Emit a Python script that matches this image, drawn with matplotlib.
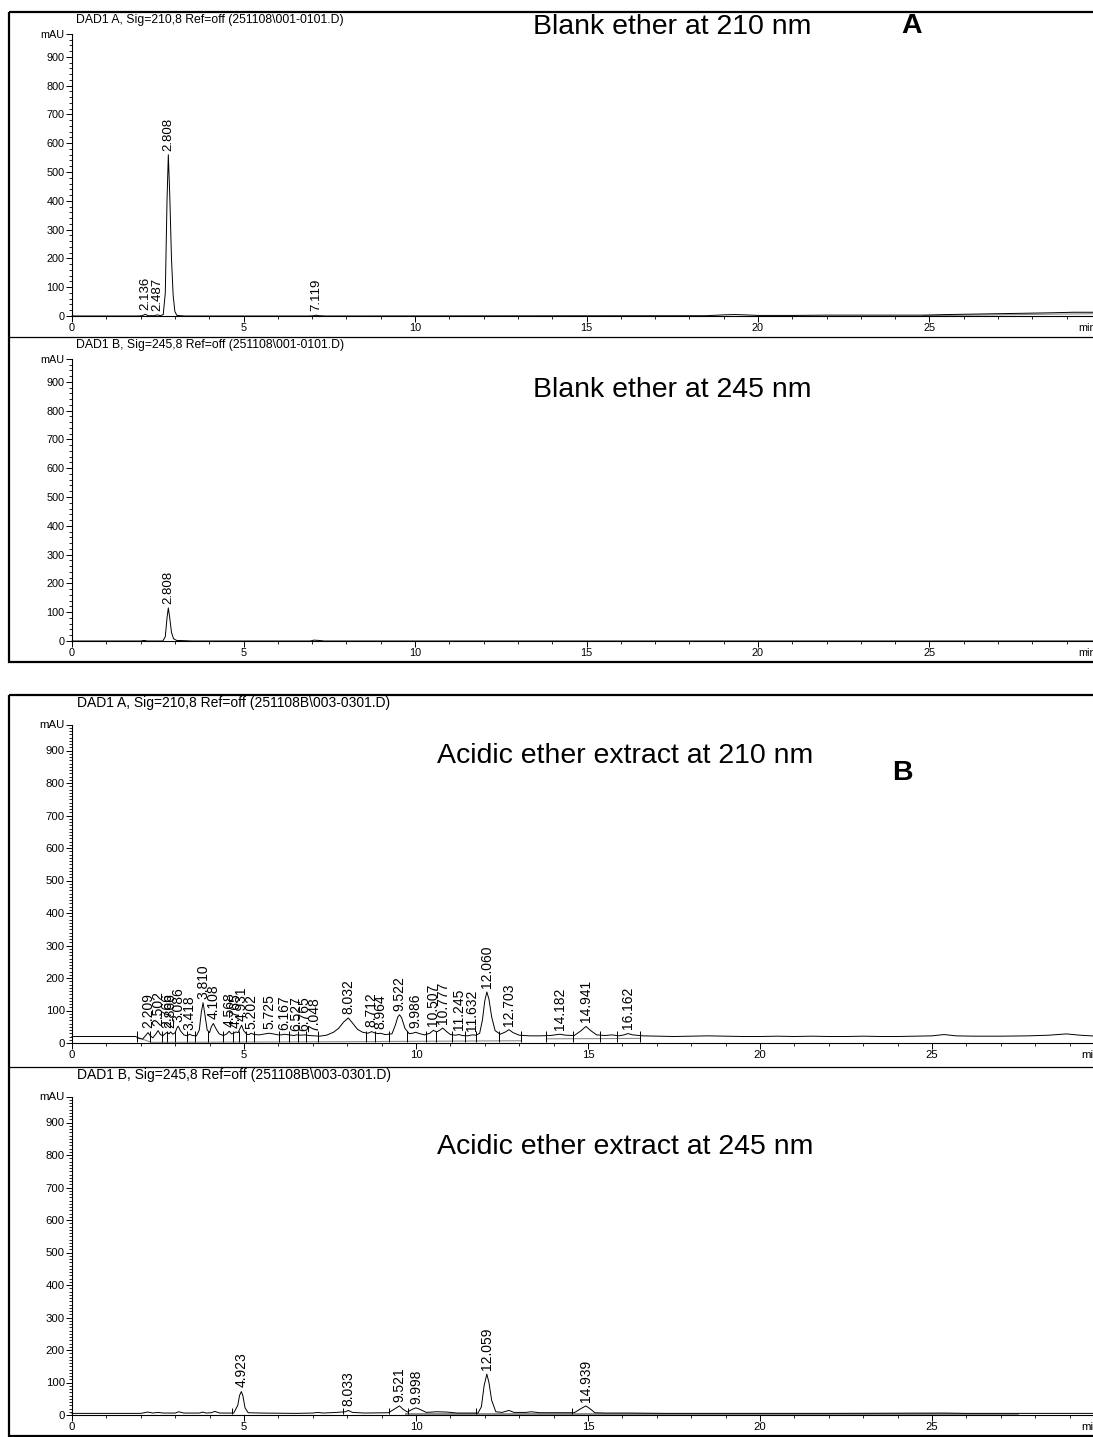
import numpy as np
import matplotlib
matplotlib.use("Agg")
import matplotlib.pyplot as plt
from matplotlib.patches import Rectangle
from matplotlib.ticker import MultipleLocator, FixedLocator, FixedFormatter

plt.rcParams['font.family'] = ['Liberation Sans', 'DejaVu Sans']

# ---------------- data ----------------
# Panel A, blank ether, 210 nm
a210_t = [0, 1.9, 2.05, 2.136, 2.22, 2.40, 2.487, 2.58, 2.66, 2.72, 2.77, 2.808, 2.85, 2.90, 2.95,
          3.00, 3.06, 3.3, 6.9, 7.05, 7.119, 7.2, 7.4, 18.5, 19.0, 19.3, 19.6, 20.0, 21.0, 22.0,
          23.0, 24.0, 24.8, 25.5, 26.5, 27.5, 28.5, 29.2, 29.8]
a210_y = [0, 0, 1, 6, 1, 1, 4, 1, 5, 80, 400, 560, 420, 200, 70,
          15, 2, 0, 0, 1, 3, 1, 0, 1, 4, 5, 4, 2, 2, 3,
          3, 3, 3, 5, 7, 9, 11, 13, 13]
a210_labels = ["2.136", "2.487", "2.808", "7.119"]
a210_rt = [2.136, 2.487, 2.808, 7.119]
a210_base_t = [24.8, 29.8]
a210_base_y = [1, 8]

# Panel A, blank ether, 245 nm
a245_t = [0, 2.0, 2.1, 2.2, 2.65, 2.72, 2.77, 2.808, 2.85, 2.90, 2.96, 3.05, 3.3, 3.5,
          6.95, 7.05, 7.2, 7.35, 29.8]
a245_y = [0, 0, 2, 0, 0, 15, 80, 115, 80, 30, 8, 2, 1, 0,
          0, 3, 2, 0, 0]
a245_labels = ["2.808"]
a245_rt = [2.808]

# Panel B, acidic ether extract, 210 nm
b210_t = [0, 1.85, 1.95, 2.05, 2.15, 2.209, 2.28, 2.35, 2.44, 2.502, 2.57, 2.64, 2.70, 2.766,
          2.82, 2.866, 2.93, 3.00, 3.05, 3.086, 3.15, 3.25, 3.35, 3.418, 3.5, 3.62, 3.70, 3.76,
          3.810, 3.86, 3.93, 4.00, 4.05, 4.108, 4.18, 4.28, 4.40, 4.50, 4.568, 4.64, 4.70, 4.765,
          4.83, 4.88, 4.931, 4.99, 5.08, 5.15, 5.202, 5.30, 5.45, 5.60, 5.725, 5.85, 6.0, 6.10,
          6.167, 6.30, 6.45, 6.527, 6.65, 6.765, 6.90, 7.048, 7.2, 7.4, 7.6, 7.75, 7.9, 8.032,
          8.15, 8.3, 8.45, 8.6, 8.712, 8.80, 8.90, 8.964, 9.10, 9.30, 9.40, 9.47, 9.522, 9.58,
          9.68, 9.80, 9.90, 9.986, 10.10, 10.25, 10.40, 10.507, 10.60, 10.70, 10.777, 10.88,
          11.0, 11.15, 11.245, 11.35, 11.5, 11.632, 11.75, 11.85, 11.93, 12.00, 12.060, 12.12,
          12.20, 12.30, 12.45, 12.60, 12.703, 12.82, 13.0, 13.3, 13.6, 13.9, 14.05, 14.182,
          14.35, 14.6, 14.8, 14.941, 15.08, 15.25, 15.5, 15.7, 15.9, 16.05, 16.162, 16.3, 16.6,
          17.0, 17.5, 18.0, 18.5, 19.0, 19.5, 20.0, 20.5, 21.0, 21.5, 22.0, 22.5, 23.0, 23.5,
          24.0, 24.6, 25.0, 25.35, 25.7, 26.2, 27.0, 27.8, 28.4, 28.9, 29.3, 29.8]
b210_y = [20, 20, 14, 12, 24, 32, 22, 16, 28, 38, 26, 22, 28, 33,
          28, 34, 27, 32, 46, 52, 38, 25, 22, 27, 23, 22, 40, 95,
          124, 90, 40, 32, 50, 60, 45, 28, 23, 28, 36, 28, 30, 34,
          32, 44, 55, 38, 27, 26, 30, 26, 25, 28, 30, 28, 25, 25,
          27, 25, 23, 25, 24, 25, 23, 22, 21, 24, 33, 45, 65, 77,
          62, 42, 33, 30, 35, 31, 29, 30, 26, 28, 55, 80, 87, 78,
          45, 29, 30, 33, 29, 25, 30, 39, 34, 40, 46, 36,
          26, 24, 26, 23, 22, 25, 24, 30, 70, 130, 157, 135,
          80, 38, 27, 34, 41, 32, 24, 22, 22, 23, 25, 27,
          24, 23, 38, 51, 38, 25, 23, 25, 22, 25, 29, 25, 22,
          21, 20, 21, 22, 21, 20, 20, 21, 20, 21, 20, 20, 21, 20,
          20, 21, 22, 26, 22, 21, 21, 22, 24, 28, 24, 21]
b210_labels = ["2.209", "2.502", "2.766", "2.866", "3.086", "3.418", "3.810", "4.108", "4.568",
               "4.765", "4.931", "5.202", "5.725", "6.167", "6.527", "6.765", "7.048", "8.032",
               "8.712", "8.964", "9.522", "9.986", "10.507", "10.777", "11.245", "11.632",
               "12.060", "12.703", "14.182", "14.941", "16.162"]
b210_rt = [2.209, 2.502, 2.766, 2.866, 3.086, 3.418, 3.810, 4.108, 4.568, 4.765, 4.931, 5.202,
           5.725, 6.167, 6.527, 6.765, 7.048, 8.032, 8.712, 8.964, 9.522, 9.986, 10.507, 10.777,
           11.245, 11.632, 12.060, 12.703, 14.182, 14.941, 16.162]
b210_marks = [1.90, 2.27, 2.61, 2.77, 2.99, 3.33, 3.57, 3.96, 4.39, 4.68, 4.86, 5.07, 5.28,
              6.03, 6.32, 6.56, 6.81, 7.14, 8.54, 8.82, 9.22, 9.75, 10.28, 10.58, 11.04, 11.43,
              11.74, 12.40, 13.05, 13.79, 14.55, 15.34, 15.83, 16.52]
b210_base1_t = [1.90, 2.30, 8.0, 13.05]
b210_base1_y = [18, 2, 4, 7]
b210_base2_t = [13.79, 16.52]
b210_base2_y = [13, 14]

# Panel B, acidic ether extract, 245 nm
b245_t = [0, 2.0, 2.2, 2.35, 2.5, 2.65, 3.0, 3.1, 3.25, 3.7, 3.8, 3.9, 4.05, 4.15, 4.3, 4.7,
          4.82, 4.87, 4.923, 4.97, 5.03, 5.12, 5.5, 6.5, 7.0, 7.15, 7.3, 7.7, 7.95, 8.033, 8.15,
          8.5, 9.2, 9.4, 9.521, 9.62, 9.75, 9.9, 9.998, 10.1, 10.3, 10.6, 10.9, 11.2, 11.8,
          11.9, 11.98, 12.059, 12.12, 12.2, 12.32, 12.5, 12.7, 12.85, 13.2, 13.35, 13.6, 14.0,
          14.6, 14.8, 14.939, 15.05, 15.2, 15.5, 16.2, 17.3, 20.0, 22.0, 25.4, 26.0, 29.8]
b245_y = [5, 5, 9, 6, 8, 6, 6, 10, 6, 6, 9, 6, 7, 11, 6, 6,
          30, 60, 72, 58, 22, 7, 6, 5, 6, 8, 6, 8, 10, 14, 8,
          6, 7, 20, 28, 18, 9, 18, 22, 18, 8, 10, 9, 6, 6,
          25, 90, 126, 100, 45, 10, 8, 14, 8, 8, 10, 7, 7,
          7, 20, 28, 20, 7, 6, 6, 5, 5, 5, 6, 5, 5]
b245_labels = ["4.923", "8.033", "9.521", "9.998", "12.059", "14.939"]
b245_rt = [4.923, 8.033, 9.521, 9.998, 12.059, 14.939]
b245_marks = [4.66, 7.89, 9.22, 9.76, 11.73, 14.53]
b245_base_t = [9.7, 27.5]
b245_base_y = [2, 2]

xtick_vals = [0, 5, 10, 15, 20, 25]
ytick_vals = [0, 100, 200, 300, 400, 500, 600, 700, 800, 900]

# ---------------- figure ----------------
W, H = 1093, 1437
fig = plt.figure(figsize=(W / 100, H / 100), dpi=100)

ov = fig.add_axes([0, 0, 1, 1])
ov.set_xlim(0, W)
ov.set_ylim(H, 0)
ov.axis('off')

YTOP = 980


def make_axes(x0, y_zero, px_per_min, px_per_mau):
    top = y_zero - YTOP * px_per_mau
    ax = fig.add_axes([x0 / W, 1 - y_zero / H, (W - x0) / W, (y_zero - top) / H])
    ax.set_xlim(0, (W - x0) / px_per_min)
    ax.set_ylim(0, YTOP)
    ax.patch.set_visible(False)
    return ax


def style_axes(ax, tick_fs, minor_y):
    for s in ('top', 'right'):
        ax.spines[s].set_visible(False)
    for s in ('left', 'bottom'):
        ax.spines[s].set_linewidth(0.8)
    ax.yaxis.set_major_locator(FixedLocator(ytick_vals + [YTOP]))
    ax.yaxis.set_major_formatter(FixedFormatter([str(v) for v in ytick_vals] + ['mAU']))
    ax.yaxis.set_minor_locator(MultipleLocator(minor_y))
    ax.xaxis.set_major_locator(FixedLocator(xtick_vals))
    ax.xaxis.set_major_formatter(FixedFormatter([str(v) for v in xtick_vals]))
    ax.xaxis.set_minor_locator(MultipleLocator(1))
    ax.tick_params(which='major', direction='out', length=4.0, width=0.7,
                   labelsize=tick_fs, pad=1.2)
    ax.tick_params(which='minor', direction='out', length=2.2, width=0.6)
    ax.annotate('min', xy=(29.35, 0), xycoords=ax.get_xaxis_transform(),
                xytext=(0, -5.2), textcoords='offset points', ha='left', va='top',
                fontsize=tick_fs, annotation_clip=False)


def draw_trace(ax, t, y, labels, rts, label_fs):
    ax.plot(t, y, color='black', lw=0.7, clip_on=False)
    for txt, rt in zip(labels, rts):
        h = float(np.interp(rt, t, y))
        ax.annotate(txt, xy=(rt, h), xytext=(0, 3), textcoords='offset points',
                    rotation=90, ha='center', va='bottom', fontsize=label_fs)


# ---- Panel A ----
ov.add_patch(Rectangle((9, 12), 1120, 650, fill=False, lw=1.6, edgecolor='black'))
ov.plot([9, W + 10], [337, 337], color='black', lw=0.9)
ov.text(76, 20, r"DAD1 A, Sig=210,8 Ref=off (251108\001-0101.D)", fontsize=8.8, va='center')
ov.text(76, 345, r"DAD1 B, Sig=245,8 Ref=off (251108\001-0101.D)", fontsize=8.8, va='center')
ov.text(533, 34, "Blank ether at 210 nm", fontsize=20.5, va='baseline', ha='left')
ov.text(901, 33, "A", fontsize=20.5, fontweight='bold', va='baseline', ha='left')
ov.text(533, 390, "Blank ether at 245 nm", fontsize=20.5, va='center', ha='left')

axA1 = make_axes(72, 316, 34.3, 0.288)
style_axes(axA1, 7.8, 20)
axA1.plot(a210_base_t, a210_base_y, color='#8c8c8c', lw=0.8)
draw_trace(axA1, a210_t, a210_y, a210_labels, a210_rt, 9.5)

axA2 = make_axes(72, 641, 34.3, 0.288)
style_axes(axA2, 7.8, 20)
draw_trace(axA2, a245_t, a245_y, a245_labels, a245_rt, 9.5)

# ---- Panel B ----
ov.add_patch(Rectangle((9, 695), 1120, 741, fill=False, lw=1.6, edgecolor='black'))
ov.plot([9, W + 10], [1067, 1067], color='black', lw=0.9)
ov.text(77, 703, r"DAD1 A, Sig=210,8 Ref=off (251108B\003-0301.D)", fontsize=10, va='center')
ov.text(77, 1075, r"DAD1 B, Sig=245,8 Ref=off (251108B\003-0301.D)", fontsize=10, va='center')
ov.text(437, 756, "Acidic ether extract at 210 nm", fontsize=20.5, va='center', ha='left')
ov.text(892, 773, "B", fontsize=20.5, fontweight='bold', va='center', ha='left')
ov.text(437, 1147, "Acidic ether extract at 245 nm", fontsize=20.5, va='center', ha='left')

axB1 = make_axes(72, 1043, 34.4, 0.325)
style_axes(axB1, 8.2, 10)
axB1.plot(b210_base1_t, b210_base1_y, color='#8c8c8c', lw=0.8)
axB1.plot(b210_base2_t, b210_base2_y, color='#8c8c8c', lw=0.8)
axB1.vlines(b210_marks, 2, 38, color='black', lw=0.7)
draw_trace(axB1, b210_t, b210_y, b210_labels, b210_rt, 10)

axB2 = make_axes(72, 1415, 34.4, 0.325)
style_axes(axB2, 8.2, 10)
axB2.plot(b245_base_t, b245_base_y, color='#8c8c8c', lw=1.4)
axB2.vlines(b245_marks, 2, 22, color='black', lw=0.7)
draw_trace(axB2, b245_t, b245_y, b245_labels, b245_rt, 10)

fig.savefig("out.png", dpi=100)
